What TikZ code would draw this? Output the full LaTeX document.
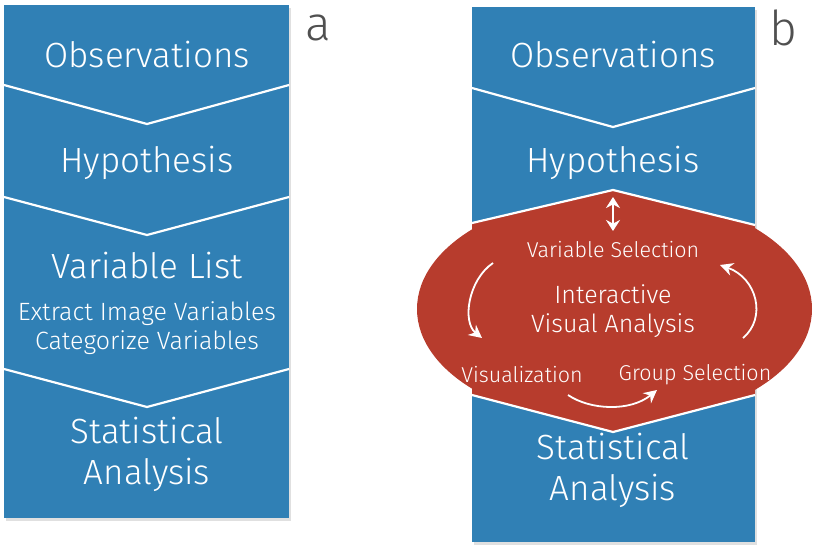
\documentclass[tikz,border=0pt]{standalone}
\usepackage{fontspec}
\setmainfont{Fira Sans}[UprightFont=* Light]
\usetikzlibrary{arrows.meta}
\definecolor{panelblue}{RGB}{48,128,181}
\definecolor{ivared}{RGB}{183,60,45}
\definecolor{labelgray}{RGB}{80,80,80}
\tikzset{
  stage/.style={text=white,font=\fontsize{35}{41}\selectfont,align=center,inner sep=0pt},
  substage/.style={text=white,font=\fontsize{25}{29}\selectfont,align=center,inner sep=0pt},
  ivastep/.style={text=white,font=\fontsize{21.5}{25}\selectfont,inner sep=0pt},
  panellabel/.style={text=labelgray,font=\fontsize{48}{52}\selectfont,inner sep=0pt},
  chevron/.style={white,line width=2.2pt},
  loop arrow/.style={white,line width=1.8pt,-{Stealth[length=13pt,width=13pt]}},
}
\begin{document}
\begin{tikzpicture}[x=1pt,y=-1pt]
  \useasboundingbox (0,0) rectangle (820,554);
  % panel a
  \fill[black!12] (6,8) rectangle (291,521);
  \fill[panelblue] (4,5) rectangle (289,518);
  \draw[chevron] (4,85)  -- (147,124) -- (289,85)
                 (4,197) -- (147,235) -- (289,197)
                 (4,369) -- (147,407) -- (289,369);
  \node[stage]      (obsA)  at (147,55)  {Observations};
  \node[stage]      (hypA)  at (147,163) {Hypothesis};
  \node[stage]      (varA)  at (147,266) {Variable List};
  \node[substage]   (extA)  at (147,328) {Extract Image Variables\\Categorize Variables};
  \node[stage]      (statA) at (147,454) {Statistical\\Analysis};
  \node[panellabel] (labA)  at (318,28)  {a};
  % panel b
  \fill[black!12] (474,10) rectangle (757,545);
  \fill[panelblue] (472,7) rectangle (755,542);
  \draw[chevron] (472,88) -- (613,127) -- (755,88);
  \begin{scope}
    \clip (0,0) rectangle (472,554) (755,0) rectangle (820,554);
    \fill[ivared] (614.5,309) ellipse [x radius=197.5, y radius=115];
  \end{scope}
  \fill[ivared] (472,223) -- (613,190) -- (755,225) -- (755,395)
                -- (613,432) -- (472,395) -- cycle;
  \draw[chevron] (472,223) -- (613,190) -- (755,225)
                 (472,395) -- (613,432) -- (755,395);
  \node[stage]      (obsB)   at (613,55)  {Observations};
  \node[stage]      (hypB)   at (613,163) {Hypothesis};
  \node[ivastep]    (varsel) at (613,250) {Variable Selection};
  \node[substage]   (iva)    at (613,311) {Interactive\\Visual Analysis};
  \node[ivastep]    (vis)    at (522,375) {Visualization};
  \node[ivastep]    (grpsel) at (695,375) {Group Selection};
  \node[stage]      (statB)  at (613,470) {Statistical\\Analysis};
  \node[panellabel] (labB)   at (783,28)  {b};
  % loop of the analysis
  \coordinate (hypfoot)  at (613,197);
  \coordinate (varhead)  at (613,231);
  \coordinate (varout)   at (493,263);
  \coordinate (visin)    at (482,338);
  \coordinate (visout)   at (568,395);
  \coordinate (grpin)    at (657,390);
  \coordinate (grpout)   at (743,338);
  \coordinate (varin)    at (720,265);
  \draw[loop arrow,{Stealth[length=11pt,width=14pt]}-{Stealth[length=11pt,width=14pt]}]
        (hypfoot) -- (varhead);
  \draw[loop arrow] (varout) .. controls (468,280) and (462,322) .. (visin);
  \draw[loop arrow] (visout) .. controls (590,410) and (630,412) .. (grpin);
  \draw[loop arrow] (grpout) .. controls (767,318) and (757,278) .. (varin);
\end{tikzpicture}
\end{document}
